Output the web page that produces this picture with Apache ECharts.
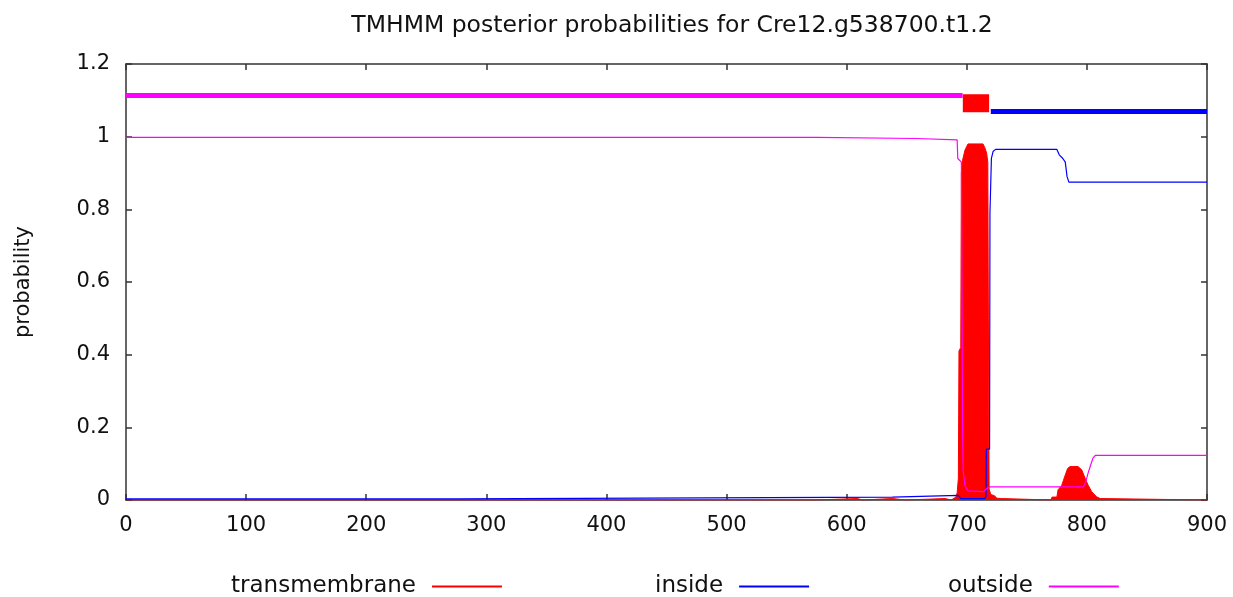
<!DOCTYPE html>
<html>
<head>
<meta charset="utf-8">
<title>TMHMM posterior probabilities</title>
<script src="https://cdn.jsdelivr.net/npm/echarts@6/dist/echarts.min.js"></script>
<style>
  html, body { margin: 0; padding: 0; background: #fff; }
  #chart { width: 1233px; height: 597px; }
</style>
</head>
<body>
<div id="chart"></div>
<script>
// Residue positions and posterior probabilities for each state
const tmPos = [0, 573, 574, 609, 610, 613, 614, 638, 639, 649, 650, 682, 683, 687, 688, 691, 692, 693, 693.5, 695, 695.5, 696.5, 698.5, 701, 713.5, 715, 716.5, 717.5, 718, 718.6, 720, 723, 725, 729, 730,
  770, 771, 775, 776, 779, 782, 784, 786, 792.6, 795.7, 798.5, 801, 804, 808, 811, 812, 900];
const tmProb = [0, 0, 0.004, 0.004, 0, 0, 0.004, 0.004, 0, 0, 0.004, 0.004, 0, 0, 0.005, 0.008, 0.02, 0.06, 0.41, 0.42, 0.9, 0.935, 0.963, 0.98, 0.98, 0.97, 0.955, 0.93, 0.5, 0.03, 0.015, 0.012, 0.005, 0.004, 0,
  0, 0.008, 0.008, 0.028, 0.04, 0.069, 0.087, 0.092, 0.092, 0.083, 0.06, 0.041, 0.023, 0.009, 0.004, 0, 0];

const insidePos = [0, 276, 277, 638, 639, 693, 695, 715, 716, 716.3, 719, 719.3, 720.5, 722, 724, 775, 777, 780, 782, 783.5, 785, 900];
const insideProb = [0.003, 0.003, 0.008, 0.008, 0.013, 0.013, 0.004, 0.004, 0.01, 0.14, 0.14, 0.79, 0.94, 0.96, 0.965, 0.965, 0.95, 0.94, 0.93, 0.89, 0.875, 0.875];

const outsidePos = [0, 575, 576, 658, 659, 692, 692.5, 695.5, 696.5, 697, 698.5, 701, 714, 716, 719, 797, 799, 801, 803, 805, 807, 900];
const outsideProb = [0.998, 0.998, 0.995, 0.995, 0.991, 0.991, 0.94, 0.93, 0.2, 0.08, 0.04, 0.025, 0.023, 0.03, 0.036, 0.036, 0.05, 0.074, 0.095, 0.115, 0.123, 0.123];

// Predicted topology segments drawn above the curves
const topoOutsideSpan = [0, 696.5];
const topoTmSpan = [696.7, 718.6];
const topoInsideSpan = [720, 900];
const topoLevels = { outside: 1.113, tm: 1.092, inside: 1.069 };

const stateNames = ['transmembrane', 'inside', 'outside'];
const stateColors = ['#ff0000', '#0000ff', '#ff00ff'];

const pair = (xs, ys) => xs.map((x, i) => [x, ys[i]]);
const span = (s, level) => [[s[0], level], [s[1], level]];

const FONT = 'DejaVu Sans';
const axisLineStyle = { color: '#333', width: 1.5 };

const chart = echarts.init(document.getElementById('chart'), null, { renderer: 'canvas' });

function legendFor(i, left) {
  return {
    data: [stateNames[i]],
    left: left,
    top: 570,
    align: 'right',
    icon: 'rect',
    itemWidth: 70,
    itemHeight: 2,
    selectedMode: false,
    textStyle: { fontFamily: FONT, fontSize: 23, color: '#111', padding: [0, 11, 0, 0] }
  };
}

chart.setOption({
  animation: false,
  backgroundColor: '#fff',
  title: {
    text: 'TMHMM posterior probabilities for Cre12.g538700.t1.2',
    left: 667,
    textAlign: 'center',
    top: 9,
    textStyle: { fontFamily: FONT, fontSize: 23.5, fontWeight: 'normal', color: '#111' }
  },
  legend: [legendFor(0, 226), legendFor(1, 650), legendFor(2, 943)],
  grid: { left: 126, right: 26, top: 64, bottom: 97, containLabel: false },
  xAxis: [
    {
      type: 'value', min: 0, max: 900, interval: 100,
      axisLine: { show: true, onZero: false, lineStyle: axisLineStyle },
      axisTick: { show: true, inside: true, length: 6, lineStyle: axisLineStyle },
      axisLabel: { fontFamily: FONT, fontSize: 21, color: '#111', margin: 15 },
      splitLine: { show: false }
    },
    {
      type: 'value', position: 'top', min: 0, max: 900, interval: 100,
      axisLine: { show: true, onZero: false, lineStyle: axisLineStyle },
      axisTick: { show: true, inside: true, length: 6, lineStyle: axisLineStyle },
      axisLabel: { show: false },
      splitLine: { show: false }
    }
  ],
  yAxis: [
    {
      type: 'value', min: 0, max: 1.2, interval: 0.2,
      name: 'probability', nameLocation: 'middle', nameGap: 92, nameRotate: 90,
      nameTextStyle: { fontFamily: FONT, fontSize: 21, color: '#111' },
      axisLine: { show: true, onZero: false, lineStyle: axisLineStyle },
      axisTick: { show: true, inside: true, length: 6, lineStyle: axisLineStyle },
      axisLabel: { fontFamily: FONT, fontSize: 21, color: '#111', margin: 16 },
      splitLine: { show: false }
    },
    {
      type: 'value', position: 'right', min: 0, max: 1.2, interval: 0.2,
      axisLine: { show: true, onZero: false, lineStyle: axisLineStyle },
      axisTick: { show: true, inside: true, length: 6, lineStyle: axisLineStyle },
      axisLabel: { show: false },
      splitLine: { show: false }
    }
  ],
  series: [
    {
      name: stateNames[0], type: 'line', data: pair(tmPos, tmProb),
      symbol: 'none', color: stateColors[0], itemStyle: { color: stateColors[0] },
      lineStyle: { color: stateColors[0], width: 1 },
      areaStyle: { color: stateColors[0], opacity: 1 }, z: 2
    },
    {
      name: stateNames[1], type: 'line', data: pair(insidePos, insideProb),
      symbol: 'none', color: stateColors[1], itemStyle: { color: stateColors[1] },
      lineStyle: { color: stateColors[1], width: 1.2 }, z: 3
    },
    {
      name: stateNames[2], type: 'line', data: pair(outsidePos, outsideProb),
      symbol: 'none', color: stateColors[2], itemStyle: { color: stateColors[2] },
      lineStyle: { color: stateColors[2], width: 1.2 }, z: 4
    },
    {
      name: 'topology-outside', type: 'line', data: span(topoOutsideSpan, topoLevels.outside),
      symbol: 'none', lineStyle: { color: stateColors[2], width: 5, cap: 'butt' }, z: 5
    },
    {
      name: 'topology-tm', type: 'line', data: span(topoTmSpan, topoLevels.tm),
      symbol: 'none', lineStyle: { color: stateColors[0], width: 18, cap: 'butt' }, z: 5
    },
    {
      name: 'topology-inside', type: 'line', data: span(topoInsideSpan, topoLevels.inside),
      symbol: 'none', lineStyle: { color: stateColors[1], width: 5, cap: 'butt' }, z: 5
    }
  ]
});
</script>
</body>
</html>
